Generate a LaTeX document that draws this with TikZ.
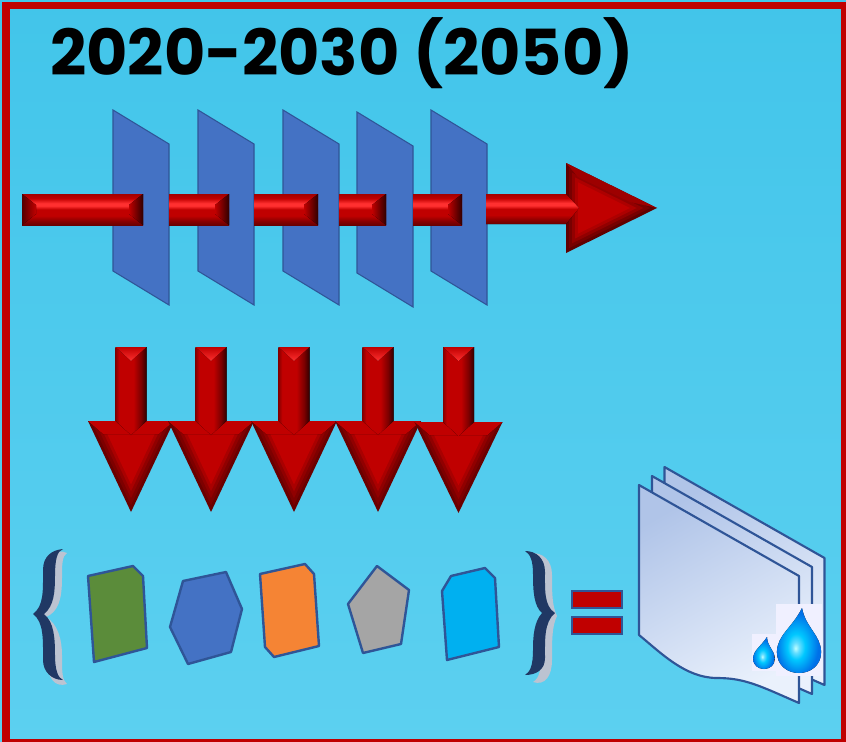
\documentclass[tikz,border=0pt]{standalone}
\usepackage{fontspec}
\setmainfont{Poppins}
\usepackage{xcolor}
\definecolor{backtop}{HTML}{42C5EA}
\definecolor{backbottom}{HTML}{5CD0F0}
\definecolor{frame}{HTML}{C00000}
\definecolor{barbright}{HTML}{FF3030}
\definecolor{bardark}{HTML}{6A0000}
\definecolor{planeblue}{HTML}{4472C4}
\definecolor{edgeblue}{HTML}{2F5597}
\definecolor{navy}{HTML}{203864}
\definecolor{tilegreen}{HTML}{5B8C3A}
\definecolor{tileorange}{HTML}{F58434}
\definecolor{tilegray}{HTML}{A5A5A5}
\definecolor{tilecyan}{HTML}{00B0F0}
\definecolor{sheettop}{HTML}{B0C4E8}
\definecolor{sheetbottom}{HTML}{EAF1FC}
\definecolor{dropcore}{HTML}{00C8FF}
\definecolor{dropedge}{HTML}{0070E8}
\usetikzlibrary{positioning}
\pgfdeclareverticalshading{barshade}{100bp}{color(0bp)=(bardark); color(25bp)=(bardark); color(31bp)=(frame!70!black); color(40bp)=(frame); color(50bp)=(frame); color(56bp)=(barbright); color(60bp)=(barbright); color(68bp)=(frame); color(75bp)=(frame!85!black); color(100bp)=(frame)}
\pgfdeclarehorizontalshading{shaftshade}{100bp}{color(0bp)=(frame); color(25bp)=(frame!70!black); color(31bp)=(frame); color(54bp)=(frame); color(66bp)=(frame!65!black); color(75bp)=(frame!25!black); color(100bp)=(frame!25!black)}
\pgfdeclareradialshading{dropshade}{\pgfpoint{-4bp}{-6bp}}{color(0bp)=(white!75!cyan); color(4bp)=(dropcore!60!white); color(10bp)=(dropcore); color(24bp)=(dropedge); color(50bp)=(dropedge)}
\tikzstyle{plane}=[fill=planeblue, draw=edgeblue, line width=0.8pt]
\tikzstyle{tile}=[draw=edgeblue, line width=1.8pt, line join=round]
\tikzstyle{sheet}=[draw=edgeblue, line width=1.6pt, line join=round, top color=sheettop, bottom color=sheetbottom, shading angle=30]
\tikzstyle{equalbar}=[fill=frame, draw=edgeblue, line width=2pt]
\tikzstyle{droptile}=[fill=white!94!blue, draw=none]
\tikzstyle{bandshade}=[top color=frame, middle color=barbright, bottom color=frame]
\newcommand{\planeat}[2]{
\filldraw[plane] (#1,#2) -- ++(56,34) -- ++(0,161) -- ++(-56,-34) -- cycle;}
% one bar piece: left end, right end
\newcommand{\barpiece}[2]{
\fill[shading=barshade] (#1,194) rectangle (#2,225);
\fill[left color=frame, right color=frame!25!black] (#2,194) -- (#2,225) -- ++(-14,-11) -- ++(0,-9) -- cycle;}
\newcommand{\downarrowat}[3]{
\foreach \inset/\shade in {0/55,3/65,6/75,9/88,12/100}{
\fill[frame!\shade!black] (#1-#3+1.1*\inset,#2) -- (#1+#3-1.1*\inset,#2) -- (#1,#2+91-2.3*\inset) -- cycle;}
\fill[bandshade] (#1-#3,#2) -- (#1+#3,#2) -- (#1+#3-15,#2+13) -- (#1-#3+15,#2+13) -- cycle;
\fill[shading=shaftshade] (#1-15.5,347) -- (#1+15.5,347) -- (#1+15.5,#2) -- (#1,#2+14) -- (#1-15.5,#2) -- cycle;
\fill[top color=frame, bottom color=barbright] (#1-15.5,347) -- (#1+15.5,347) -- (#1,361) -- cycle;}
\newcommand{\dropat}[3]{
\fill[shading=dropshade] (#1+3,#2) .. controls (#1+0.1*#3,#2+0.3*#3) and (#1+0.34*#3,#2+0.42*#3) .. (#1+0.34*#3,#2+0.68*#3) .. controls (#1+0.34*#3,#2+0.88*#3) and (#1+0.18*#3,#2+#3) .. (#1,#2+#3) .. controls (#1-0.18*#3,#2+#3) and (#1-0.34*#3,#2+0.88*#3) .. (#1-0.34*#3,#2+0.68*#3) .. controls (#1-0.34*#3,#2+0.42*#3) and (#1-0.1*#3,#2+0.3*#3) .. (#1+3,#2) -- cycle;}

\begin{document}
\begin{tikzpicture}[x=0.75pt,y=-0.75pt]
\useasboundingbox (0,0) rectangle (846,742);
\shade[top color=backtop, bottom color=backbottom] (0,0) rectangle (846,742);
\draw[frame, line width=5.6pt] (6,5.5) rectangle (844.3,743);

% title
\node (title) [anchor=base, text=black, font=\fontsize{47.6}{50}\selectfont\bfseries] at (342,75) {2020-2030 (2050)};

% planes and the long arrow
\planeat{113}{110}
\planeat{198}{110}
\planeat{283}{110}
\planeat{357}{112}
\planeat{431}{110}
\barpiece{22}{143}
\fill[left color=frame!45!black, right color=frame] (22,194) -- (22,225) -- ++(14,-11) -- ++(0,-9) -- cycle;
\barpiece{169}{229}
\barpiece{254}{318}
\barpiece{339}{386}
\barpiece{413}{462}
\foreach \inset/\shade in {0/50,3/62,6/76,9/90,12/100}{
\fill[frame!\shade!black] (566+\inset,163+1.61*\inset) -- (657-2.25*\inset,208) -- (566+\inset,253-1.61*\inset) -- cycle;}
\fill[frame!82!black] (566,163) -- (657,208) -- (630,202) -- (578,177) -- cycle;
\fill[shading=barshade] (486,194) -- (566,194) -- (579,208) -- (566,224) -- (486,224) -- cycle;

% row of down arrows
\downarrowat{131}{421}{43}
\downarrowat{211}{421}{43}
\downarrowat{294}{421}{43}
\downarrowat{378}{421}{43}
\downarrowat{458.5}{422}{44}

% left brace
\fill[white!70!navy] (67,553) .. controls (62,556) and (62,565) .. (62,578) .. controls (62,600) and (58,612) .. (46,617) .. controls (58,624) and (62,640) .. (62,655) .. controls (62,672) and (62,680) .. (67,684) .. controls (55,688) and (47,678) .. (47,660) .. controls (47,640) and (47,624) .. (37,614) .. controls (47,606) and (47,590) .. (47,570) .. controls (47,556) and (56,548) .. (67,553) -- cycle;
\fill[navy] (63,549) .. controls (52,550) and (43,556) .. (43,570) .. controls (43,590) and (44,606) .. (33,614) .. controls (44,622) and (43,640) .. (43,660) .. controls (43,672) and (52,680) .. (63,680) .. controls (58,678) and (55,670) .. (55,655) .. controls (55,638) and (54,622) .. (44,614) .. controls (54,606) and (55,592) .. (55,576) .. controls (55,560) and (57,551) .. (63,549) -- cycle;

% tiles
\filldraw[tile, fill=tilegreen] (88,576) -- (133,566) -- (143,576) -- (147,648) -- (94,662) -- cycle;
\filldraw[tile, fill=planeblue] (183,581) -- (226,572) -- (242,609) -- (231,652) -- (188,664) -- (170,627) -- cycle;
\filldraw[tile, fill=tileorange] (260,574) -- (305,564) -- (314,574) -- (319,646) -- (274,657) -- (265,647) -- cycle;
\filldraw[tile, fill=tilegray] (377,566) -- (409,590) -- (401,644) -- (363,653) -- (348,604) -- cycle;
\filldraw[tile, fill=tilecyan] (442,591) -- (451,576) -- (485,568) -- (495,578) -- (499,647) -- (447,660) -- cycle;

% right brace
\fill[white!70!navy] (529,553) .. controls (543,552) and (552,560) .. (552,575) .. controls (552,592) and (552,606) .. (557,616) .. controls (552,626) and (552,640) .. (552,660) .. controls (552,676) and (545,686) .. (533,682) .. controls (540,678) and (541,668) .. (541,655) .. controls (541,636) and (542,626) .. (550,620) .. controls (542,612) and (540,600) .. (540,578) .. controls (540,566) and (537,556) .. (529,553) -- cycle;
\fill[navy] (525,551) .. controls (536,551) and (545,558) .. (545,572) .. controls (545,590) and (544,606) .. (555,613) .. controls (544,622) and (545,640) .. (545,658) .. controls (545,670) and (536,675) .. (525,675) .. controls (530,672) and (533,666) .. (533,650) .. controls (533,636) and (534,622) .. (542,613) .. controls (534,606) and (533,592) .. (533,574) .. controls (533,560) and (530,554) .. (525,551) -- cycle;

% equals sign
\draw[equalbar] (572,591) rectangle (622,608);
\draw[equalbar] (572,617) rectangle (622,634);

% stack of sheets
\filldraw[sheet, shift={(25.5,-18)}] (639,485) -- (799,576) -- (799,703) .. controls (760,686) and (745,678) .. (717,678) .. controls (685,678) and (660,652) .. (639,635) -- cycle;
\filldraw[sheet, shift={(13,-9)}] (639,485) -- (799,576) -- (799,703) .. controls (760,686) and (745,678) .. (717,678) .. controls (685,678) and (660,652) .. (639,635) -- cycle;
\filldraw[sheet] (639,485) -- (799,576) -- (799,703) .. controls (760,686) and (745,678) .. (717,678) .. controls (685,678) and (660,652) .. (639,635) -- cycle;

% drops
\fill[droptile] (776,604) rectangle (822,676);
\fill[droptile] (752,634) rectangle (776,671);
\dropat{799}{608}{65}
\dropat{764}{637}{32}
\end{tikzpicture}
\end{document}
